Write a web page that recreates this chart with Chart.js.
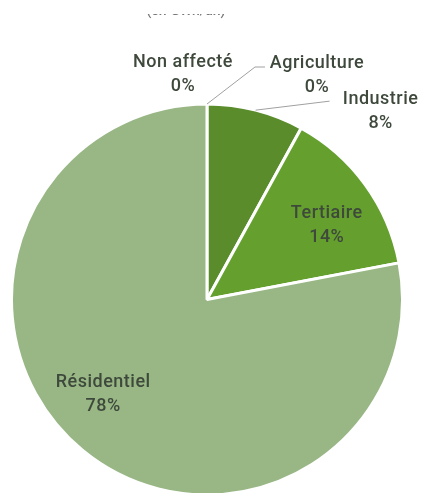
<!DOCTYPE html>
<html>
<head>
<meta charset="utf-8">
<script src="https://cdn.jsdelivr.net/npm/chart.js@4"></script>
<style>
  html, body { margin: 0; padding: 0; background: #fff; overflow: hidden; }
  #clip { width: 421px; height: 493px; overflow: hidden; }
  #wrap { width: 421px; height: 497px; position: relative; }
</style>
</head>
<body>
<div id="clip"><div id="wrap"><canvas id="pie"></canvas></div></div>
<script>
Chart.defaults.font.family = 'Roboto, sans-serif';

const labels = ['Non affecté', 'Agriculture', 'Industrie', 'Tertiaire', 'Résidentiel'];
const values = [0, 0, 8, 14, 78];
const pctLabels = ['0%', '0%', '8%', '14%', '78%'];
const sliceColors = ['#97b684', '#4f7f25', '#5a8c2c', '#65a02f', '#98b785'];
const textColor = '#3e493c';
const labelFont = '500 18px Roboto, sans-serif';

// inside labels: radius ratio and angle shift (radians) from the slice middle
const insideRatio = [0, 0, 0, 0.72, 0.72];
const insideShift = [0, 0, 0, 0.075, 0.138];
// outside labels: offsets from the rim point, plus leader line bends
const outsideOffsets = [[-24, -42], [110, -41], [125, -11]];
const leaderEnds = [null, [48, -37], [74, -9]];
const leaderTails = [0, 10, 0];

const pieLabels = {
  id: 'pieLabels',
  afterDraw(chart) {
    const ctx = chart.ctx;
    const meta = chart.getDatasetMeta(0);
    ctx.save();
    ctx.font = labelFont;
    ctx.letterSpacing = '0.5px';
    ctx.fillStyle = textColor;
    ctx.textAlign = 'center';
    ctx.textBaseline = 'middle';
    meta.data.forEach((arc, i) => {
      const p = arc.getProps(['x', 'y', 'startAngle', 'endAngle', 'outerRadius'], true);
      const mid = (p.startAngle + p.endAngle) / 2;
      if (insideRatio[i] > 0) {
        const a = mid + insideShift[i];
        const r = p.outerRadius * insideRatio[i];
        const cx = p.x + Math.cos(a) * r;
        const cy = p.y + Math.sin(a) * r;
        ctx.fillText(labels[i], cx, cy - 12);
        ctx.fillText(pctLabels[i], cx, cy + 12);
      } else {
        const rx = p.x + Math.cos(mid) * p.outerRadius;
        const ry = p.y + Math.sin(mid) * p.outerRadius;
        const le = leaderEnds[i];
        if (le) {
          ctx.strokeStyle = '#a0a0a0';
          ctx.lineWidth = 1;
          ctx.beginPath();
          ctx.moveTo(rx, ry);
          ctx.lineTo(rx + le[0], ry + le[1]);
          ctx.lineTo(rx + le[0] + leaderTails[i], ry + le[1]);
          ctx.stroke();
        }
        const o = outsideOffsets[i];
        ctx.fillText(labels[i], rx + o[0], ry + o[1]);
        ctx.fillText(pctLabels[i], rx + o[0], ry + o[1] + 24);
      }
    });
    // cut-off title remnant at the very top
    ctx.beginPath();
    ctx.rect(0, 14, chart.width, 20);
    ctx.clip();
    ctx.fillStyle = '#777';
    ctx.letterSpacing = '0px';
    ctx.font = '500 14px Roboto, sans-serif';
    ctx.textBaseline = 'alphabetic';
    ctx.fillText('(en GWh/an)', 186, 14.5);
    ctx.restore();
  }
};

new Chart(document.getElementById('pie'), {
  type: 'pie',
  data: {
    labels: labels,
    datasets: [{
      data: values,
      backgroundColor: sliceColors,
      borderColor: '#ffffff',
      borderWidth: 3
    }]
  },
  options: {
    responsive: true,
    maintainAspectRatio: false,
    animation: false,
    layout: { padding: { top: 102, left: 10, right: 17, bottom: 0 } },
    plugins: {
      legend: { display: false },
      tooltip: { enabled: false }
    }
  },
  plugins: [pieLabels]
});
</script>
</body>
</html>
